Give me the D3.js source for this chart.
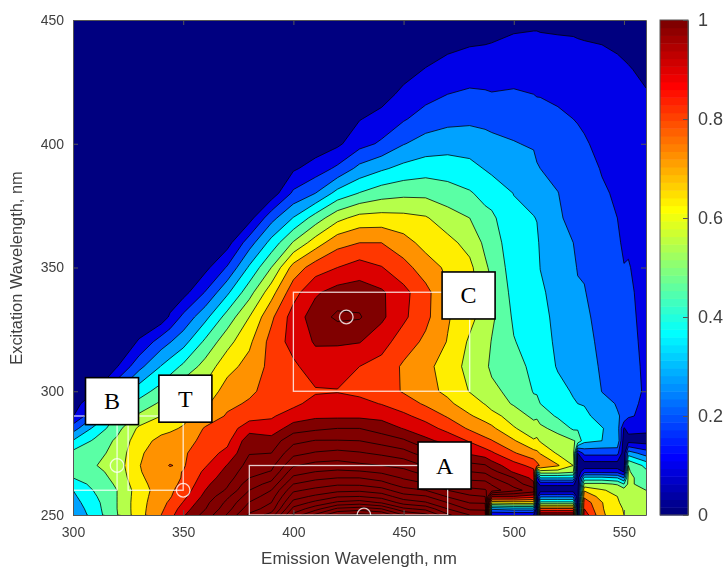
<!DOCTYPE html>
<html>
<head>
<meta charset="utf-8">
<script src="https://cdn.jsdelivr.net/npm/d3@7"></script>
<style>
	html,body{margin:0;padding:0;background:#fff;}
	svg{display:block;filter:blur(.45px);}
	text{font-family:"Liberation Sans",Arial,sans-serif;fill:#404040;}
	.tag text{font-family:"Liberation Serif",serif;fill:#000;font-size:24px;}
</style>
</head>
<body>
<script>
//emission wavelengths of the matrix columns, nm
var emission=[300,310,320,330,340,344,350,360,370,380,390,400,410,420,430,440,450,460,470,480,487,490,500,509,510.5,512,520,527,529,532,540,547,550,552,560];

//excitation wavelengths of the matrix rows, nm
var excitation=[250,252.5,255,257.5,260,262.5,265,267.5,270,275,280,285,290,295,300,310,320,330,340,350,360,370,380,390,400,410,420,430,440,450];

//intensity, in contour steps (one step is 1/11 of the colour range)
var intensity=[
	[3.1,4.5,5.95,7.6,9,9.6,10.85,12.4,14.1,16.2,17.4,21.3,23.2,25,25.4,25,23,22.3,20.2,19,18.7,1,1,1,.4,12,12,12,.4,10.6,8.2,7.3,7,6.95,6.8],
	[3.35,4.6,6,7.6,8.85,9.3,10.5,11.95,13.6,15.55,16.45,20.3,21.6,23.2,23.5,23,21.2,20.7,19,17.8,17.8,3.2,3.5,3.5,.4,9.2,9.2,9.2,.4,10,8.1,7.2,6.95,6.9,6.6],
	[3.6,4.7,6,7.6,8.7,9.15,10.05,11.7,13.25,15.05,16,19.35,20.3,21.2,21.5,20.9,19.6,19.1,18,16.95,16.9,7.3,7.5,7.5,.4,5.3,5.3,5.3,.4,9.6,8.05,7.05,6.9,6.7,6.4],
	[3.8,4.9,6,7.55,8.6,8.9,9.7,11.3,12.8,14.5,15.5,18.55,19.2,19.9,20,19.6,18.4,18.1,16.9,16.2,16,11,11,10.5,.4,2.8,2.8,2.8,.4,8.8,7.6,7,6.8,6.5,6.2],
	[4,5.1,6,7.5,8.5,8.82,9.4,11,12.15,14,15,17.8,18.3,18.7,18.8,18.4,17.4,17,16,15.3,15.1,14.5,13.3,12.6,.4,.4,.4,.4,.4,7.9,7.1,6.7,6.5,6.3,6],
	[4.5,5.3,6.15,7.65,8.55,8.79,9.15,10.75,11.85,13.55,14.3,17,17.5,17.85,17.8,17.4,16.5,16.1,15.2,14.5,14.4,13.9,12.7,11.2,.6,1.2,1.2,1.2,.4,6.2,6.2,5.9,5,6.2,5.6],
	[5,5.5,6.3,7.8,8.6,8.78,9.05,10.45,11.55,13,13.7,16.2,16.75,17,17,16.6,15.9,15.3,14.5,13.7,13.6,13.1,12,10.7,1.5,4,4,4,.4,4.3,4.3,4,3,6.3,5.4],
	[5.25,5.7,6.4,7.9,8.75,8.86,9.02,10.2,11.3,12.7,13.05,15.6,16,16.2,16.1,15.8,15.3,14.6,13.8,13,12.8,12.4,10.85,10.25,4,6.6,6.6,6.2,.4,1.6,1.6,1.6,.9,6.1,5.2],
	[5.5,5.95,6.5,7.95,8.85,9.03,8.9,9.9,11.05,12.4,12.7,14.9,15.35,15.45,15.2,15,14.7,13.9,13.1,12.3,12.1,11.5,10.4,9.7,9.3,8.9,8.1,7,.4,.4,.4,.4,.4,6,4.7],
	[5.3,5.6,6.4,7.8,8.7,8.76,8.85,9.6,10.25,11.95,12,13.7,14.1,14.3,14.1,13.8,13.4,12.5,12,10.85,10.45,10.15,9.1,8.35,8.2,7.95,6.85,6.45,1,2.3,2.3,2.3,.4,3.5,2.5],
	[4.05,5.2,6.2,7.55,8.3,8.38,8.5,9.35,9.75,11.6,11.45,12.7,13.05,13.05,13,12.6,12.15,11.25,10.65,9.9,9.25,9.05,8.1,7.1,7.2,6.9,6.4,6.05,5.9,4.3,4,3.9,.4,.6,.5],
	[2.55,4.3,5.65,7.2,7.65,7.83,8.1,9.1,9.45,10.6,10.35,11.55,11.8,12,12,11.55,10.95,10.4,9.7,8.85,8.4,8.2,7.1,6.4,6.45,6.2,5.7,4.85,4.85,4.6,4.05,3.55,.9,1.35,1.3],
	[.95,3,5.15,6.2,7,7.28,7.7,8.4,9.1,9.6,9.9,10.4,10.8,10.8,10.8,10.7,10.2,9.65,8.9,8.1,7.65,7.4,6.5,5.8,5.85,5.6,4.85,4.4,4.4,4.2,3.65,3.05,2.9,2.1,1.8],
	[.5,1.9,4,5.3,6.2,6.6,7.2,7.8,8.8,9.1,9.6,9.8,10.3,10.4,10.3,9.95,9.5,8.85,8.2,7.5,6.95,6.55,5.9,5.2,5.25,5,4.6,4.1,4,3.95,3.25,2.95,2.9,2.2,1.85],
	[.3,1,2.95,4.55,5.4,5.96,6.8,7.3,8.45,8.85,9.3,9.55,9.9,9.95,9.75,9.55,8.9,8.3,7.8,6.95,6.5,6.2,5.75,4.95,4.9,4.85,4.35,3.9,3.85,3.8,2.98,2.9,2.8,2.3,1.9],
	[.1,.3,.95,2.7,4.05,4.51,5.2,6.4,7.65,8.35,9.3,9.8,10.55,10.5,10,9.65,8.85,8.25,7.6,6.65,6.15,5.85,5.4,4.75,4.8,4.7,3.9,3.75,3.6,3.55,2.85,2.75,2.6,2.3,1.85],
	[0,.1,.2,1.1,2.5,2.94,3.6,5.2,6.65,7.8,9.35,10.4,11.1,11.1,11.05,10.4,9.5,8.8,7.95,6.85,6.4,5.95,5.05,4.6,4.65,4.55,3.75,3.6,3.4,3.35,2.75,2.65,2.45,2.25,1.8],
	[0,0,0,.3,.4,1.14,2.25,3.7,5.4,7,8.8,10.45,11.5,12.2,12.1,11.2,10.2,9.25,8.1,7.3,6.55,6.2,4.85,4.45,4.55,4.4,3.65,3.45,3.25,3.2,2.65,2.5,2.3,2.2,1.75],
	[0,0,0,0,.1,.3,.6,2.05,3.8,5.6,7.6,9.6,10.85,11.4,11.5,11.15,10.3,9.3,8.1,7.5,6.4,6.1,4.65,4.3,4.45,4.2,3.55,3.3,3.1,3.05,2.5,2.35,2.15,2.15,1.7],
	[0,0,0,0,0,.08,.2,.7,2.1,4.15,6,8.4,9.5,10,10.45,10.05,9.35,8.5,7.8,7.25,6.15,5.8,4.5,4.25,4.35,3.98,3.4,3.15,2.95,2.9,2.4,2.2,2.02,2.05,1.65],
	[0,0,0,0,0,0,0,.25,.6,2.55,4.35,6.1,7.5,8.65,9,9,8.4,7.65,7.3,6.65,5.8,5.5,4.4,4.2,4.25,3.8,3.25,3,2.9,2.8,2.3,2.1,1.9,1.9,1.6],
	[0,0,0,0,0,0,0,0,.2,.6,2.65,4.05,5.45,6.7,7.35,7.4,7.3,7.1,6.45,6,5.3,5.2,4.2,4.05,3.95,3.6,3.1,2.8,2.85,2.7,2.2,2,1.85,1.8,1.55],
	[0,0,0,0,0,0,0,0,0,.1,.4,2.2,3,4.35,5.05,5.55,5.75,5.75,5.45,5.1,4.7,4.55,3.98,3.55,3.6,3.25,3.02,2.6,2.7,2.55,2.1,1.9,1.75,1.72,1.5],
	[0,0,0,0,0,0,0,0,0,0,0,.85,1.45,2.2,3.3,3.85,4.3,4.55,4.5,4.3,3.95,3.8,3.5,3.3,3.1,3,2.75,2.55,2.45,2.3,1.95,1.8,1.7,1.65,1.4],
	[0,0,0,0,0,0,0,0,0,0,0,.3,.4,.8,1.65,2.15,2.95,3.4,3.6,3.55,3.35,3.25,3.05,2.9,2.7,2.75,2.45,2.3,2.2,2.1,1.75,1.7,1.6,1.55,1.3],
	[0,0,0,0,0,0,0,0,0,0,0,0,.1,.3,.95,1.35,1.9,2.45,2.7,2.8,2.75,2.7,2.65,2.45,2.4,2.35,2.2,2,1.95,1.85,1.55,1.6,1.5,1.45,1.2],
	[0,0,0,0,0,0,0,0,0,0,0,0,0,0,.4,.6,1.25,1.65,2,2.15,2.1,2.05,2.1,2,1.95,1.95,1.8,1.75,1.7,1.6,1.35,1.45,1.35,1.3,1.1],
	[0,0,0,0,0,0,0,0,0,0,0,0,0,0,.1,.2,.6,1.05,1.4,1.55,1.55,1.5,1.65,1.65,1.6,1.6,1.5,1.5,1.45,1.4,1.2,1.25,1.15,1.1,.7],
	[0,0,0,0,0,0,0,0,0,0,0,0,0,0,0,0,.2,.4,.75,.95,1,1.05,1.2,1.25,1.25,1.25,1.2,1.2,1.15,1.1,1,.85,.75,.6,.3],
	[0,0,0,0,0,0,0,0,0,0,0,0,0,0,0,0,0,.1,.2,.35,.4,.4,.75,.8,.8,.75,.7,.6,.55,.5,.45,.4,.3,.2,.1]
];

//tick labels
var emTicks=[300,350,400,450,500,550];
var exTicks=[250,300,350,400,450];
var barTicks=[0,.2,.4,.6,.8,1];

//fluorescence regions, [em from, em to, ex from, ex to]
var regions=[[380,470,250,270],[400,480,300,340],[300,320,260,290],[325,350,260,290]];
//peak positions, [em, ex]
var peaks=[[432,250],[424,330],[320,270],[350,260]];
//region tags
var tagNames=["A","B","T","C"];
var tagEm=[468.6,317.7,351,479.5];
var tagEx=[270,296,297,338.7];

//number of contour steps drawn and steps per full colour range
var levelCount=30,
	stepsPerRange=11;

drawChart();

function drawChart(){
	var width=727,
		height=567;

	var svg=d3.select("body")
		.append("svg")
		.attr("width",width)
		.attr("height",height);

	//plot frame
	var left=73,
		right=646,
		top=20,
		bottom=515;

	var x=d3.scaleLinear().domain([300,560]).range([left,right]);
	var y=d3.scaleLinear().domain([250,450]).range([bottom,top]);

	//matlab style jet ramp
	var jet=d3.scaleLinear()
		.domain([0,.111,.365,.619,.873,1])
		.range(["#000080","#0000ff","#00ffff","#ffff00","#ff0000","#800000"])
		.clamp(true);

	//d3.contours puts grid point i at i+.5, the grid is not even so map through the wavelengths
	var emAt=d3.scaleLinear().domain(emission.map(function(d,i){return i+.5;})).range(emission);
	var exAt=d3.scaleLinear().domain(excitation.map(function(d,i){return i+.5;})).range(excitation);

	var project=d3.geoTransform({
		point:function(a,b){
			this.stream.point(x(emAt(a)),y(exAt(b)));
		}
	});
	var path=d3.geoPath(project);

	svg.append("clipPath")
		.attr("id","plot")
		.append("rect")
		.attr("x",left)
		.attr("y",top)
		.attr("width",right-left)
		.attr("height",bottom-top);

	var plot=svg.append("g").attr("clip-path","url(#plot)");

	//lowest band
	plot.append("rect")
		.attr("x",left)
		.attr("y",top)
		.attr("width",right-left)
		.attr("height",bottom-top)
		.attr("fill",jet(0));

	var contours=d3.contours()
		.size([emission.length,excitation.length])
		.thresholds(d3.range(1,levelCount))
		(d3.merge(intensity));

	plot.selectAll(".band")
		.data(contours)
		.enter()
		.append("path")
		.attr("class","band")
		.attr("d",path)
		.attr("fill",function(d){return jet(d.value/stepsPerRange);})
		.attr("stroke","#000")
		.attr("stroke-opacity",.85)
		.attr("stroke-width",.9)
		.attr("stroke-linejoin","round");

	//white region boxes and peak circles
	plot.selectAll(".region")
		.data(regions)
		.enter()
		.append("rect")
		.attr("class","region")
		.attr("x",function(d){return x(d[0]);})
		.attr("y",function(d){return y(d[3]);})
		.attr("width",function(d){return x(d[1])-x(d[0]);})
		.attr("height",function(d){return y(d[2])-y(d[3]);})
		.attr("fill","none")
		.attr("stroke","#fff")
		.attr("stroke-opacity",.8)
		.attr("stroke-width",1.3);

	plot.selectAll(".peak")
		.data(peaks)
		.enter()
		.append("circle")
		.attr("class","peak")
		.attr("cx",function(d){return x(d[0]);})
		.attr("cy",function(d){return y(d[1]);})
		.attr("r",6.8)
		.attr("fill","none")
		.attr("stroke","#fff")
		.attr("stroke-opacity",.8)
		.attr("stroke-width",1.3);

	//axes, ticks point inwards on all four sides
	var axisColor="#555";
	drawAxis(d3.axisBottom(x).tickValues(emTicks),bottom,0,12);
	drawAxis(d3.axisTop(x).tickValues(emTicks),top,0,null);
	drawAxis(d3.axisLeft(y).tickValues(exTicks),0,left,9);
	drawAxis(d3.axisRight(y).tickValues(exTicks),0,right,null);

	function drawAxis(axis,ty,tx,padding){
		var g=svg.append("g")
			.attr("transform","translate("+tx+","+ty+")")
			.call(axis.tickSizeOuter(0).tickSizeInner(-5).tickPadding(padding||0));
		g.select(".domain").attr("stroke",axisColor);
		g.selectAll(".tick line").attr("stroke",axisColor);
		if(padding){
			g.selectAll(".tick text").attr("font-size",14).attr("fill","#404040");
		}else{
			g.selectAll(".tick text").remove();
		}
		g.attr("font-family",null);
	}

	svg.append("text")
		.attr("x",359)
		.attr("y",564)
		.attr("text-anchor","middle")
		.attr("font-size",17)
		.text("Emission Wavelength, nm");

	svg.append("text")
		.attr("transform","translate(22,268) rotate(-90)")
		.attr("text-anchor","middle")
		.attr("font-size",16.4)
		.text("Excitation Wavelength, nm");

	//region tags
	var tags=svg.selectAll(".tag")
		.data(tagNames)
		.enter()
		.append("g")
		.attr("class","tag")
		.attr("transform",function(d,i){
			return "translate("+x(tagEm[i])+","+y(tagEx[i])+")";
		});

	tags.append("rect")
		.attr("x",-26.5)
		.attr("y",-23.5)
		.attr("width",53)
		.attr("height",47)
		.attr("fill","#fff")
		.attr("stroke","#000")
		.attr("stroke-width",1.6);

	tags.append("text")
		.attr("text-anchor","middle")
		.attr("y",8)
		.text(function(d){return d;});

	//colour bar
	var barLeft=660,
		barRight=688;
	var barY=d3.scaleLinear().domain([0,1]).range([bottom,top]);
	var barSteps=d3.range(64);

	svg.selectAll(".swatch")
		.data(barSteps)
		.enter()
		.append("rect")
		.attr("class","swatch")
		.attr("x",barLeft)
		.attr("width",barRight-barLeft)
		.attr("y",function(d){return barY((d+1)/64);})
		.attr("height",barY(0)-barY(1/64)+.5)
		.attr("fill",function(d){return jet(d/63);});

	svg.append("rect")
		.attr("x",barLeft)
		.attr("y",top)
		.attr("width",barRight-barLeft)
		.attr("height",bottom-top)
		.attr("fill","none")
		.attr("stroke",axisColor);

	var barAxis=svg.append("g")
		.attr("transform","translate("+barRight+",0)")
		.call(d3.axisRight(barY).tickValues(barTicks).tickFormat(function(d){return d;}).tickSizeOuter(0).tickSizeInner(-5).tickPadding(10));
	barAxis.attr("font-family",null);
	barAxis.select(".domain").attr("stroke",axisColor);
	barAxis.selectAll(".tick line").attr("stroke",axisColor);
	barAxis.selectAll(".tick text").attr("font-size",18).attr("fill","#404040");
};
</script>
</body>
</html>
